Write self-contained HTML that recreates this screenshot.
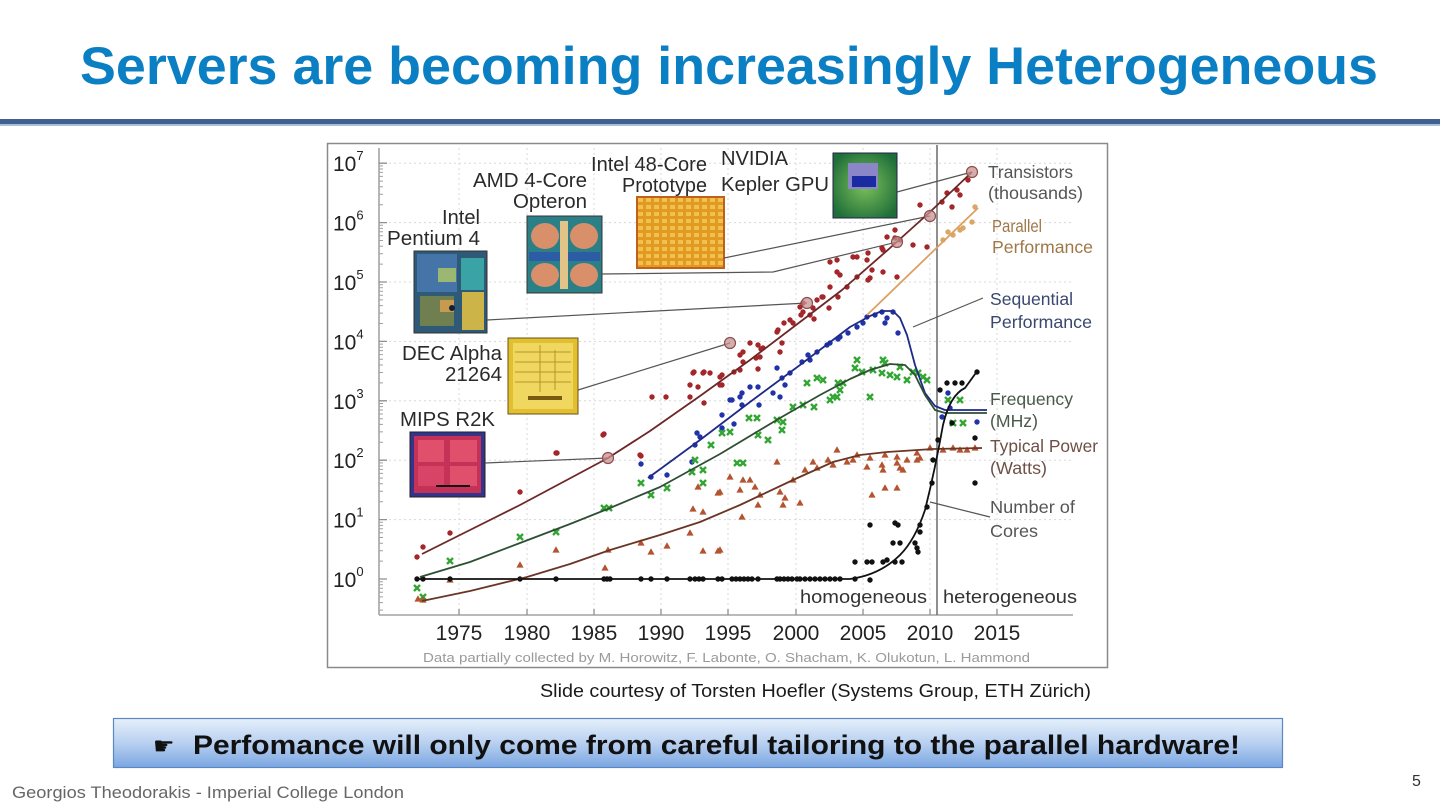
<!DOCTYPE html>
<html><head><meta charset="utf-8"><style>
html,body{margin:0;padding:0;background:#fff;}
svg{display:block;}
</style></head><body>
<svg width="1440" height="810" viewBox="0 0 1440 810" xmlns="http://www.w3.org/2000/svg" font-family="Liberation Sans, Arial, sans-serif">
<defs>
<linearGradient id="boxg" x1="0" y1="0" x2="0" y2="1">
<stop offset="0" stop-color="#e6f0fb"/><stop offset="0.5" stop-color="#b8d0f0"/><stop offset="1" stop-color="#7aa6e2"/>
</linearGradient>
<pattern id="grid48" x="637" y="197" width="8" height="7" patternUnits="userSpaceOnUse">
<rect width="8" height="7" fill="#e39a20"/><rect x="1" y="1" width="5" height="4" fill="#f0c050"/>
</pattern>
<radialGradient id="nv" cx="0.5" cy="0.5" r="0.6"><stop offset="0" stop-color="#7cc05a"/><stop offset="1" stop-color="#1f6e3a"/></radialGradient>
<path id="tri" d="M0,-3.8 L3.6,2.6 L-3.6,2.6Z" fill="#b4532f"/>
<path id="gx" d="M-3,-3 L3,3 M-3,3 L3,-3" stroke="#33a533" stroke-width="2.4" fill="none"/>
</defs>
<rect width="1440" height="810" fill="#fff"/>

<!-- title -->
<text x="80" y="84" font-size="53" font-weight="bold" fill="#0b7fc3" textLength="1298" lengthAdjust="spacingAndGlyphs">Servers are becoming increasingly Heterogeneous</text>
<rect x="0" y="119" width="1440" height="5" fill="#40618f"/>
<rect x="0" y="124" width="1440" height="2" fill="#a8bedb"/>

<!-- chart frame -->
<rect x="327.5" y="143.5" width="780" height="524" fill="#fff" stroke="#8a8a8a" stroke-width="1.5"/>

<!-- grid -->
<g stroke="#d8d8d8" stroke-width="1" stroke-dasharray="2,3">
<line x1="459" y1="148" x2="459" y2="615"/><line x1="527" y1="148" x2="527" y2="615"/><line x1="594" y1="148" x2="594" y2="615"/>
<line x1="661" y1="148" x2="661" y2="615"/><line x1="728" y1="148" x2="728" y2="615"/><line x1="796" y1="148" x2="796" y2="615"/>
<line x1="863" y1="148" x2="863" y2="615"/><line x1="930" y1="148" x2="930" y2="615"/><line x1="997" y1="148" x2="997" y2="615"/>
<line x1="379" y1="519.6" x2="1073" y2="519.6"/><line x1="379" y1="460.2" x2="1073" y2="460.2"/><line x1="379" y1="400.8" x2="1073" y2="400.8"/>
<line x1="379" y1="341.4" x2="1073" y2="341.4"/><line x1="379" y1="282" x2="1073" y2="282"/><line x1="379" y1="222.6" x2="1073" y2="222.6"/><line x1="379" y1="163.2" x2="1073" y2="163.2"/>
</g>

<!-- axes -->
<g stroke="#8f8f8f" stroke-width="1.3" fill="none">
<line x1="379" y1="148" x2="379" y2="615"/>
<line x1="379" y1="615" x2="1073" y2="615"/>
<path d="M379,579H387M379,519.6H387M379,460.2H387M379,400.8H387M379,341.4H387M379,282H387M379,222.6H387M379,163.2H387"/>
<path d="M459,615V609M527,615V609M594,615V609M661,615V609M728,615V609M796,615V609M863,615V609M930,615V609M997,615V609"/>
</g>
<g stroke="#a0a0a0" stroke-width="1">
<path d="M379,561.1H383M379,550.7H383M379,543.2H383M379,537.5H383M379,532.8H383M379,528.8H383M379,525.4H383M379,522.3H383
M379,501.7H383M379,491.3H383M379,483.8H383M379,478.1H383M379,473.4H383M379,469.4H383M379,466H383M379,462.9H383
M379,442.3H383M379,431.9H383M379,424.4H383M379,418.7H383M379,414H383M379,410H383M379,406.6H383M379,403.5H383
M379,382.9H383M379,372.5H383M379,365H383M379,359.3H383M379,354.6H383M379,350.6H383M379,347.2H383M379,344.1H383
M379,323.5H383M379,313.1H383M379,305.6H383M379,299.9H383M379,295.2H383M379,291.2H383M379,287.8H383M379,284.7H383
M379,264.1H383M379,253.7H383M379,246.2H383M379,240.5H383M379,235.8H383M379,231.8H383M379,228.4H383M379,225.3H383
M379,204.7H383M379,194.3H383M379,186.8H383M379,181.1H383M379,176.4H383M379,172.4H383M379,169H383M379,165.9H383
M379,581.7H383M379,584.8H383M379,588.2H383M379,592.2H383M379,596.9H383M379,602.6H383M379,610.1H383"/>
</g>

<!-- y labels -->
<g font-size="21" fill="#222">
<text x="333" y="587">10<tspan font-size="13" dy="-11">0</tspan></text>
<text x="333" y="527.6">10<tspan font-size="13" dy="-11">1</tspan></text>
<text x="333" y="468.2">10<tspan font-size="13" dy="-11">2</tspan></text>
<text x="333" y="408.8">10<tspan font-size="13" dy="-11">3</tspan></text>
<text x="333" y="349.4">10<tspan font-size="13" dy="-11">4</tspan></text>
<text x="333" y="290">10<tspan font-size="13" dy="-11">5</tspan></text>
<text x="333" y="230.6">10<tspan font-size="13" dy="-11">6</tspan></text>
<text x="333" y="171.2">10<tspan font-size="13" dy="-11">7</tspan></text>
</g>
<!-- x labels -->
<g font-size="21" fill="#222" text-anchor="middle">
<text x="459" y="640">1975</text><text x="527" y="640">1980</text><text x="594" y="640">1985</text><text x="661" y="640">1990</text>
<text x="728" y="640">1995</text><text x="796" y="640">2000</text><text x="863" y="640">2005</text><text x="930" y="640">2010</text><text x="997" y="640">2015</text>
</g>

<!-- divider -->
<line x1="937" y1="145" x2="937" y2="615" stroke="#6a6a6a" stroke-width="1.5"/>
<text x="800" y="603" font-size="18" fill="#333" textLength="127" lengthAdjust="spacingAndGlyphs">homogeneous</text>
<text x="943" y="603" font-size="18" fill="#333" textLength="134" lengthAdjust="spacingAndGlyphs">heterogeneous</text>

<!-- chip images -->
<g>
<rect x="414" y="251" width="73" height="82" fill="#2e5a78" stroke="#333" stroke-width="1"/>
<rect x="417" y="254" width="40" height="38" fill="#4574a8"/>
<rect x="420" y="296" width="34" height="30" fill="#6f7f4f"/>
<rect x="438" y="268" width="18" height="14" fill="#9ab872"/>
<rect x="461" y="258" width="23" height="32" fill="#3aa3a6"/>
<rect x="462" y="292" width="22" height="38" fill="#cdb448"/>
<rect x="440" y="300" width="14" height="12" fill="#c89a50"/>
<circle cx="452" cy="308" r="3" fill="#123"/>
<rect x="527" y="216" width="75" height="77" fill="#2b7f86" stroke="#333" stroke-width="1"/>
<ellipse cx="545" cy="236" rx="14" ry="13" fill="#d98f6a"/><ellipse cx="584" cy="236" rx="14" ry="13" fill="#d98f6a"/>
<ellipse cx="545" cy="275" rx="14" ry="12" fill="#d98f6a"/><ellipse cx="584" cy="275" rx="14" ry="12" fill="#d98f6a"/>
<rect x="529" y="252" width="71" height="9" fill="#2c5ca6"/>
<rect x="560" y="221" width="8" height="68" fill="#e2c488"/>
<rect x="637" y="197" width="87" height="71" fill="url(#grid48)" stroke="#c0601a" stroke-width="2"/>
<rect x="833" y="153" width="64" height="65" fill="url(#nv)" stroke="#224" stroke-width="1"/>
<rect x="848" y="163" width="30" height="26" fill="#8a86c8"/>
<rect x="852" y="176" width="24" height="11" fill="#1a2aa0"/>
<rect x="508" y="338" width="70" height="76" fill="#e2bf30" stroke="#6a5010" stroke-width="1"/>
<rect x="513" y="343" width="60" height="66" fill="#f0d860"/>
<path d="M515,352H571M515,362H571M515,372H571M515,382H571M540,345V392M555,350V390" stroke="#b89428" stroke-width="1"/>
<rect x="528" y="396" width="34" height="4" fill="#7a5a10"/>
<rect x="410" y="432" width="75" height="65" fill="#34348c" stroke="#222" stroke-width="1"/>
<rect x="414" y="436" width="67" height="57" fill="#c43258"/>
<rect x="418" y="440" width="26" height="22" fill="#e0506c"/><rect x="450" y="440" width="27" height="22" fill="#e0506c"/>
<rect x="418" y="466" width="26" height="20" fill="#d84466"/><rect x="450" y="466" width="27" height="20" fill="#e0506c"/>
<path d="M436,486H470" stroke="#111" stroke-width="2"/>
</g>

<!-- chip labels -->
<g font-size="20" fill="#2a2a2a">
<text x="442" y="224" textLength="38" lengthAdjust="spacingAndGlyphs">Intel</text>
<text x="387" y="245" textLength="93" lengthAdjust="spacingAndGlyphs">Pentium 4</text>
<text x="473" y="187" textLength="114" lengthAdjust="spacingAndGlyphs">AMD 4-Core</text>
<text x="513" y="208" textLength="74" lengthAdjust="spacingAndGlyphs">Opteron</text>
<text x="591" y="171" textLength="116" lengthAdjust="spacingAndGlyphs">Intel 48-Core</text>
<text x="622" y="192" textLength="85" lengthAdjust="spacingAndGlyphs">Prototype</text>
<text x="721" y="165" textLength="67" lengthAdjust="spacingAndGlyphs">NVIDIA</text>
<text x="721" y="191" textLength="108" lengthAdjust="spacingAndGlyphs">Kepler GPU</text>
<text x="402" y="360" textLength="100" lengthAdjust="spacingAndGlyphs">DEC Alpha</text>
<text x="445" y="381" textLength="57" lengthAdjust="spacingAndGlyphs">21264</text>
<text x="400" y="426" textLength="95" lengthAdjust="spacingAndGlyphs">MIPS R2K</text>
</g>

<!-- connectors -->
<g stroke="#555" stroke-width="1.2" fill="none">
<path d="M485,463L608,458"/>
<path d="M578,390L730,343"/>
<path d="M487,320L807,303"/>
<path d="M602,274L773,272L897,242"/>
<path d="M724,258L930,216"/>
<path d="M897,192L972,172"/>
<path d="M913,327L983,298"/>
<path d="M930,502L990,517"/>
</g>

<!-- scatter: transistors -->
<g fill="#a3262a">
<circle cx="417" cy="557" r="2.7"/><circle cx="423" cy="547" r="2.7"/><circle cx="450" cy="533" r="2.7"/><circle cx="520" cy="492" r="2.7"/><circle cx="556" cy="453" r="2.7"/><circle cx="604" cy="434" r="2.7"/><circle cx="641" cy="456" r="2.7"/><circle cx="652" cy="397" r="2.7"/><circle cx="666" cy="397" r="2.7"/><circle cx="690" cy="397" r="2.7"/><circle cx="694" cy="372" r="2.7"/><circle cx="704" cy="372" r="2.7"/><circle cx="698" cy="387" r="2.7"/><circle cx="704" cy="403" r="2.7"/><circle cx="722" cy="375" r="2.7"/><circle cx="722" cy="385" r="2.7"/><circle cx="734" cy="372" r="2.7"/><circle cx="743" cy="352" r="2.7"/><circle cx="743" cy="362" r="2.7"/><circle cx="750" cy="343" r="2.7"/><circle cx="758" cy="345" r="2.7"/><circle cx="761" cy="349" r="2.7"/><circle cx="756" cy="358" r="2.7"/><circle cx="758" cy="369" r="2.7"/><circle cx="777" cy="332" r="2.7"/><circle cx="784" cy="323" r="2.7"/><circle cx="793" cy="323" r="2.7"/><circle cx="782" cy="343" r="2.7"/><circle cx="780" cy="352" r="2.7"/><circle cx="803" cy="303" r="2.7"/><circle cx="801" cy="315" r="2.7"/><circle cx="810" cy="315" r="2.7"/><circle cx="814" cy="319" r="2.7"/><circle cx="823" cy="297" r="2.7"/><circle cx="829" cy="308" r="2.7"/><circle cx="838" cy="297" r="2.7"/><circle cx="920" cy="205" r="2.7"/><circle cx="942" cy="202" r="2.7"/><circle cx="947" cy="193" r="2.7"/><circle cx="957" cy="190" r="2.7"/><circle cx="960" cy="195" r="2.7"/><circle cx="952" cy="207" r="2.7"/><circle cx="900" cy="240" r="2.7"/><circle cx="913" cy="245" r="2.7"/><circle cx="927" cy="247" r="2.7"/><circle cx="895" cy="230" r="2.7"/><circle cx="887" cy="237" r="2.7"/><circle cx="882" cy="248" r="2.7"/><circle cx="868" cy="253" r="2.7"/><circle cx="857" cy="257" r="2.7"/><circle cx="872" cy="270" r="2.7"/><circle cx="883" cy="272" r="2.7"/><circle cx="897" cy="277" r="2.7"/><circle cx="868" cy="280" r="2.7"/><circle cx="837" cy="260" r="2.7"/><circle cx="837" cy="272" r="2.7"/><circle cx="847" cy="287" r="2.7"/><circle cx="857" cy="277" r="2.7"/><circle cx="830" cy="287" r="2.7"/><circle cx="817" cy="300" r="2.7"/><circle cx="822" cy="297" r="2.7"/><circle cx="800" cy="307" r="2.7"/><circle cx="803" cy="312" r="2.7"/><circle cx="813" cy="308" r="2.7"/><circle cx="790" cy="320" r="2.7"/><circle cx="778" cy="330" r="2.7"/><circle cx="763" cy="348" r="2.7"/><circle cx="760" cy="357" r="2.7"/><circle cx="740" cy="370" r="2.7"/><circle cx="720" cy="377" r="2.7"/><circle cx="710" cy="373" r="2.7"/><circle cx="968" cy="180" r="2.7"/><circle cx="830" cy="262" r="2.7"/><circle cx="840" cy="275" r="2.7"/><circle cx="853" cy="257" r="2.7"/><circle cx="867" cy="260" r="2.7"/><circle cx="883" cy="250" r="2.7"/><circle cx="895" cy="238" r="2.7"/><circle cx="870" cy="278" r="2.7"/><circle cx="740" cy="355" r="2.7"/><circle cx="693" cy="373" r="2.7"/><circle cx="703" cy="373" r="2.7"/><circle cx="690" cy="385" r="2.7"/><circle cx="720" cy="385" r="2.7"/><circle cx="603" cy="435" r="2.7"/><circle cx="557" cy="453" r="2.7"/><circle cx="640" cy="455" r="2.7"/>
</g>
<!-- parallel -->
<g fill="#d9a766">
<circle cx="943" cy="240" r="2.7"/><circle cx="953" cy="235" r="2.7"/><circle cx="963" cy="228" r="2.7"/><circle cx="972" cy="222" r="2.7"/><circle cx="975" cy="207" r="2.7"/><circle cx="948" cy="232" r="2.7"/><circle cx="960" cy="230" r="2.7"/>
</g>
<!-- sequential -->
<g fill="#2233a8">
<circle cx="641" cy="464" r="2.7"/><circle cx="651" cy="477" r="2.7"/><circle cx="667" cy="475" r="2.7"/><circle cx="692" cy="462" r="2.7"/><circle cx="697" cy="433" r="2.7"/><circle cx="700" cy="437" r="2.7"/><circle cx="695" cy="445" r="2.7"/><circle cx="722" cy="415" r="2.7"/><circle cx="722" cy="428" r="2.7"/><circle cx="730" cy="400" r="2.7"/><circle cx="734" cy="424" r="2.7"/><circle cx="742" cy="393" r="2.7"/><circle cx="742" cy="405" r="2.7"/><circle cx="750" cy="387" r="2.7"/><circle cx="758" cy="387" r="2.7"/><circle cx="759" cy="405" r="2.7"/><circle cx="777" cy="368" r="2.7"/><circle cx="780" cy="397" r="2.7"/><circle cx="782" cy="378" r="2.7"/><circle cx="785" cy="385" r="2.7"/><circle cx="790" cy="373" r="2.7"/><circle cx="802" cy="362" r="2.7"/><circle cx="808" cy="355" r="2.7"/><circle cx="817" cy="352" r="2.7"/><circle cx="827" cy="345" r="2.7"/><circle cx="830" cy="343" r="2.7"/><circle cx="838" cy="339" r="2.7"/><circle cx="857" cy="327" r="2.7"/><circle cx="863" cy="323" r="2.7"/><circle cx="867" cy="317" r="2.7"/><circle cx="882" cy="312" r="2.7"/><circle cx="885" cy="323" r="2.7"/><circle cx="887" cy="318" r="2.7"/><circle cx="898" cy="333" r="2.7"/><circle cx="893" cy="312" r="2.7"/><circle cx="840" cy="337" r="2.7"/><circle cx="810" cy="360" r="2.7"/><circle cx="773" cy="393" r="2.7"/><circle cx="732" cy="400" r="2.7"/><circle cx="740" cy="397" r="2.7"/><circle cx="948" cy="393" r="2.7"/><circle cx="950" cy="408" r="2.7"/><circle cx="977" cy="422" r="2.7"/><circle cx="942" cy="417" r="2.7"/><circle cx="848" cy="333" r="2.7"/><circle cx="875" cy="315" r="2.7"/>
</g>
<!-- frequency -->
<g>
<use href="#gx" x="417" y="588"/><use href="#gx" x="423" y="597"/><use href="#gx" x="450" y="561"/><use href="#gx" x="520" y="537"/><use href="#gx" x="556" y="532"/><use href="#gx" x="604" y="508"/><use href="#gx" x="609" y="508"/><use href="#gx" x="641" y="483"/><use href="#gx" x="651" y="495"/><use href="#gx" x="667" y="488"/><use href="#gx" x="692" y="472"/><use href="#gx" x="695" y="460"/><use href="#gx" x="703" y="470"/><use href="#gx" x="703" y="483"/><use href="#gx" x="722" y="433"/><use href="#gx" x="730" y="432"/><use href="#gx" x="737" y="463"/><use href="#gx" x="743" y="463"/><use href="#gx" x="749" y="418"/><use href="#gx" x="757" y="418"/><use href="#gx" x="758" y="435"/><use href="#gx" x="777" y="420"/><use href="#gx" x="782" y="430"/><use href="#gx" x="783" y="422"/><use href="#gx" x="793" y="407"/><use href="#gx" x="803" y="405"/><use href="#gx" x="814" y="407"/><use href="#gx" x="823" y="380"/><use href="#gx" x="830" y="400"/><use href="#gx" x="837" y="397"/><use href="#gx" x="838" y="383"/><use href="#gx" x="807" y="383"/><use href="#gx" x="817" y="378"/><use href="#gx" x="833" y="397"/><use href="#gx" x="840" y="390"/><use href="#gx" x="855" y="368"/><use href="#gx" x="862" y="372"/><use href="#gx" x="870" y="397"/><use href="#gx" x="873" y="370"/><use href="#gx" x="882" y="373"/><use href="#gx" x="885" y="363"/><use href="#gx" x="890" y="375"/><use href="#gx" x="897" y="377"/><use href="#gx" x="900" y="367"/><use href="#gx" x="907" y="380"/><use href="#gx" x="913" y="372"/><use href="#gx" x="918" y="373"/><use href="#gx" x="923" y="377"/><use href="#gx" x="927" y="380"/><use href="#gx" x="883" y="360"/><use href="#gx" x="857" y="360"/><use href="#gx" x="843" y="383"/><use href="#gx" x="960" y="400"/><use href="#gx" x="953" y="423"/><use href="#gx" x="963" y="423"/><use href="#gx" x="948" y="400"/><use href="#gx" x="768" y="440"/><use href="#gx" x="711" y="445"/>
</g>
<!-- power -->
<g>
<use href="#tri" x="418" y="599"/><use href="#tri" x="423" y="600"/><use href="#tri" x="450" y="580"/><use href="#tri" x="520" y="565"/><use href="#tri" x="556" y="550"/><use href="#tri" x="605" y="568"/><use href="#tri" x="608" y="550"/><use href="#tri" x="641" y="543"/><use href="#tri" x="651" y="552"/><use href="#tri" x="667" y="546"/><use href="#tri" x="690" y="533"/><use href="#tri" x="693" y="509"/><use href="#tri" x="703" y="512"/><use href="#tri" x="698" y="487"/><use href="#tri" x="703" y="551"/><use href="#tri" x="718" y="493"/><use href="#tri" x="718" y="551"/><use href="#tri" x="720" y="492"/><use href="#tri" x="730" y="477"/><use href="#tri" x="740" y="490"/><use href="#tri" x="742" y="517"/><use href="#tri" x="743" y="480"/><use href="#tri" x="750" y="480"/><use href="#tri" x="755" y="487"/><use href="#tri" x="760" y="495"/><use href="#tri" x="758" y="505"/><use href="#tri" x="777" y="462"/><use href="#tri" x="780" y="492"/><use href="#tri" x="785" y="498"/><use href="#tri" x="783" y="505"/><use href="#tri" x="800" y="503"/><use href="#tri" x="793" y="480"/><use href="#tri" x="805" y="470"/><use href="#tri" x="813" y="462"/><use href="#tri" x="817" y="468"/><use href="#tri" x="828" y="460"/><use href="#tri" x="833" y="465"/><use href="#tri" x="837" y="450"/><use href="#tri" x="847" y="462"/><use href="#tri" x="853" y="460"/><use href="#tri" x="857" y="455"/><use href="#tri" x="867" y="467"/><use href="#tri" x="870" y="458"/><use href="#tri" x="882" y="465"/><use href="#tri" x="883" y="470"/><use href="#tri" x="885" y="455"/><use href="#tri" x="897" y="457"/><use href="#tri" x="897" y="463"/><use href="#tri" x="900" y="468"/><use href="#tri" x="903" y="470"/><use href="#tri" x="907" y="460"/><use href="#tri" x="917" y="453"/><use href="#tri" x="920" y="458"/><use href="#tri" x="917" y="460"/><use href="#tri" x="930" y="448"/><use href="#tri" x="943" y="450"/><use href="#tri" x="953" y="448"/><use href="#tri" x="960" y="450"/><use href="#tri" x="967" y="450"/><use href="#tri" x="872" y="495"/><use href="#tri" x="885" y="488"/><use href="#tri" x="897" y="488"/><use href="#tri" x="720" y="550"/><use href="#tri" x="975" y="448"/>
</g>
<!-- cores -->
<g fill="#111">
<circle cx="417" cy="579" r="2.7"/><circle cx="423" cy="579" r="2.7"/><circle cx="450" cy="579" r="2.7"/><circle cx="520" cy="579" r="2.7"/><circle cx="556" cy="579" r="2.7"/><circle cx="604" cy="579" r="2.7"/><circle cx="607" cy="579" r="2.7"/><circle cx="610" cy="579" r="2.7"/><circle cx="641" cy="579" r="2.7"/><circle cx="651" cy="579" r="2.7"/><circle cx="667" cy="579" r="2.7"/><circle cx="690" cy="579" r="2.7"/><circle cx="695" cy="579" r="2.7"/><circle cx="699" cy="579" r="2.7"/><circle cx="703" cy="579" r="2.7"/><circle cx="718" cy="579" r="2.7"/><circle cx="722" cy="579" r="2.7"/><circle cx="732" cy="579" r="2.7"/><circle cx="736" cy="579" r="2.7"/><circle cx="740" cy="579" r="2.7"/><circle cx="744" cy="579" r="2.7"/><circle cx="748" cy="579" r="2.7"/><circle cx="752" cy="579" r="2.7"/><circle cx="758" cy="579" r="2.7"/><circle cx="777" cy="579" r="2.7"/><circle cx="780" cy="579" r="2.7"/><circle cx="784" cy="579" r="2.7"/><circle cx="788" cy="579" r="2.7"/><circle cx="792" cy="579" r="2.7"/><circle cx="797" cy="579" r="2.7"/><circle cx="800" cy="579" r="2.7"/><circle cx="805" cy="579" r="2.7"/><circle cx="810" cy="579" r="2.7"/><circle cx="815" cy="579" r="2.7"/><circle cx="820" cy="579" r="2.7"/><circle cx="825" cy="579" r="2.7"/><circle cx="830" cy="579" r="2.7"/><circle cx="835" cy="579" r="2.7"/><circle cx="840" cy="579" r="2.7"/><circle cx="855" cy="579" r="2.7"/><circle cx="870" cy="580" r="2.7"/>
<circle cx="855" cy="562" r="2.7"/><circle cx="867" cy="562" r="2.7"/><circle cx="872" cy="562" r="2.7"/><circle cx="883" cy="562" r="2.7"/><circle cx="887" cy="560" r="2.7"/><circle cx="895" cy="562" r="2.7"/><circle cx="902" cy="562" r="2.7"/><circle cx="870" cy="525" r="2.7"/><circle cx="893" cy="543" r="2.7"/><circle cx="900" cy="543" r="2.7"/><circle cx="895" cy="523" r="2.7"/><circle cx="898" cy="525" r="2.7"/><circle cx="915" cy="543" r="2.7"/><circle cx="917" cy="548" r="2.7"/><circle cx="918" cy="552" r="2.7"/><circle cx="920" cy="525" r="2.7"/><circle cx="920" cy="532" r="2.7"/><circle cx="927" cy="507" r="2.7"/><circle cx="932" cy="483" r="2.7"/><circle cx="940" cy="390" r="2.7"/><circle cx="947" cy="383" r="2.7"/><circle cx="955" cy="383" r="2.7"/><circle cx="962" cy="383" r="2.7"/><circle cx="952" cy="423" r="2.7"/><circle cx="975" cy="438" r="2.7"/><circle cx="975" cy="483" r="2.7"/><circle cx="977" cy="372" r="2.7"/><circle cx="933" cy="460" r="2.7"/><circle cx="938" cy="440" r="2.7"/>
</g>

<!-- fit lines -->
<g fill="none" stroke-width="1.8" stroke-linejoin="round">
<path stroke="#6e2626" d="M422,554 L470,530 L520,505 L565,481 L608,458 L650,431 L700,396 L750,360 L800,322 L842,290 L890,248 L930,212 L972,172"/>
<path stroke="#dca060" d="M867,315 L978,208"/>
<path stroke="#1e2a88" d="M648,478 L700,440 L750,402 L800,365 L850,327 L870,316 L882,311 L893,311 L900,318 L907,335 L915,365 L925,393 L935,406 L945,410 L987,410"/>
<path stroke="#2f4f35" d="M420,577 L470,562 L520,543 L570,524 L610,508 L660,487 L720,454 L780,418 L820,395 L850,379 L870,370 L890,364 L905,365 L915,375 L925,395 L935,410 L945,413 L987,413"/>
<path stroke="#6b3525" d="M422,601 L470,591 L527,577 L570,564 L610,550 L660,535 L700,522 L740,505 L793,480 L833,462 L860,455 L887,452 L933,449 L982,448"/>
<path stroke="#111" d="M417,579 L850,579 Q880,575 900,555 Q915,540 925,510 Q935,470 943,425 Q950,395 965,388 L978,370"/>
</g>

<!-- highlight circles -->
<g fill="#c99090" fill-opacity="0.75" stroke="#8a5050" stroke-width="1.2">
<circle cx="608" cy="458" r="5.5"/><circle cx="730" cy="343" r="5.5"/><circle cx="807" cy="303" r="5.5"/><circle cx="897" cy="242" r="5.5"/><circle cx="930" cy="216" r="5.5"/><circle cx="972" cy="172" r="5.5"/>
</g>

<!-- right labels -->
<g font-size="17.5">
<text x="988" y="178" fill="#555" textLength="85" lengthAdjust="spacingAndGlyphs">Transistors</text>
<text x="988" y="199" fill="#555" textLength="95" lengthAdjust="spacingAndGlyphs">(thousands)</text>
<text x="992" y="232" fill="#a07848" textLength="50" lengthAdjust="spacingAndGlyphs">Parallel</text>
<text x="992" y="253" fill="#a07848" textLength="101" lengthAdjust="spacingAndGlyphs">Performance</text>
<text x="990" y="305" fill="#3a4870" textLength="83" lengthAdjust="spacingAndGlyphs">Sequential</text>
<text x="990" y="328" fill="#3a4870" textLength="102" lengthAdjust="spacingAndGlyphs">Performance</text>
<text x="990" y="405" fill="#4a5a4a" textLength="83" lengthAdjust="spacingAndGlyphs">Frequency</text>
<text x="990" y="427" fill="#4a5a4a" textLength="48" lengthAdjust="spacingAndGlyphs">(MHz)</text>
<text x="990" y="452" fill="#6e5046" textLength="108" lengthAdjust="spacingAndGlyphs">Typical Power</text>
<text x="990" y="474" fill="#6e5046" textLength="57" lengthAdjust="spacingAndGlyphs">(Watts)</text>
<text x="990" y="513" fill="#555" textLength="85" lengthAdjust="spacingAndGlyphs">Number of</text>
<text x="990" y="537" fill="#555" textLength="48" lengthAdjust="spacingAndGlyphs">Cores</text>
</g>

<text x="423" y="662" font-size="12.5" fill="#9a9a9a" textLength="607" lengthAdjust="spacingAndGlyphs">Data partially collected by M. Horowitz, F. Labonte, O. Shacham, K. Olukotun, L. Hammond</text>

<text x="540" y="697" font-size="18" fill="#1a1a1a" textLength="551" lengthAdjust="spacingAndGlyphs">Slide courtesy of Torsten Hoefler (Systems Group, ETH Zürich)</text>

<!-- bottom box -->
<rect x="113.5" y="718.5" width="1169" height="49" fill="url(#boxg)" stroke="#5a88c4" stroke-width="1.2"/>
<text x="153" y="754" font-family="DejaVu Sans, sans-serif" font-size="24" fill="#111">☛</text>
<text x="193" y="754" font-size="27" font-weight="bold" fill="#111" textLength="1047" lengthAdjust="spacingAndGlyphs">Perfomance will only come from careful tailoring to the parallel hardware!</text>

<text x="12" y="798" font-size="17" fill="#666" textLength="392" lengthAdjust="spacingAndGlyphs">Georgios Theodorakis - Imperial College London</text>
<text x="1412" y="786" font-size="16" fill="#333">5</text>
</svg>
</body></html>
